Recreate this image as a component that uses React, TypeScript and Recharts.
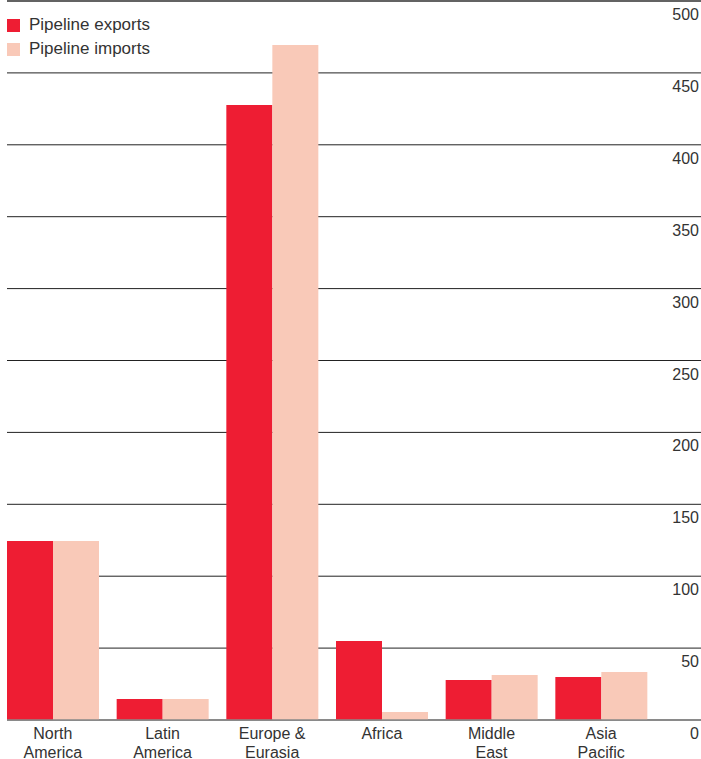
import React from "react";
import { BarChart, Bar, XAxis, YAxis, CartesianGrid, ReferenceLine, Legend } from "recharts";

const categories = ["North America", "Latin America", "Europe & Eurasia", "Africa", "Middle East", "Asia Pacific"];
const tickLines: string[][] = [
  ["North", "America"],
  ["Latin", "America"],
  ["Europe &", "Eurasia"],
  ["Africa"],
  ["Middle", "East"],
  ["Asia", "Pacific"],
];
const exportsValues = [124.5, 14.6, 427.7, 54.9, 27.8, 29.9];
const importsValues = [124.5, 14.6, 469.4, 5.6, 31.3, 33.4];
const yTicks = [0, 50, 100, 150, 200, 250, 300, 350, 400, 450, 500];

const W = 701;
const H = 759;
const RED = "#EE1D33";
const PINK = "#F9C9B8";
const TEXT = "#333333";

const data = categories.map((c, i) => ({
  name: c,
  exports: exportsValues[i],
  imports: importsValues[i],
}));

const XTick = (props: any) => {
  const { x, y, payload } = props;
  const idx = categories.indexOf(payload.value);
  const lines = idx >= 0 ? tickLines[idx] : [String(payload.value)];
  return (
    <text x={x} y={y + 19} textAnchor="middle" fill={TEXT} fontSize={16}>
      {lines.map((l, i) => (
        <tspan key={i} x={x} dy={i === 0 ? 0 : 18.5}>
          {l}
        </tspan>
      ))}
    </text>
  );
};

const YTick = (props: any) => {
  const { x, y, payload } = props;
  return (
    <text x={x} y={y + 19} textAnchor="end" fill={TEXT} fontSize={16}>
      {payload.value}
    </text>
  );
};

const LegendContent = () => {
  const items = [
    { label: "Pipeline exports", color: RED },
    { label: "Pipeline imports", color: PINK },
  ];
  return (
    <div>
      {items.map((it) => (
        <div key={it.label} style={{ display: "flex", alignItems: "center", height: 24 }}>
          <div style={{ width: 13, height: 13, background: it.color, marginRight: 9 }} />
          <span style={{ fontSize: 17, lineHeight: "24px", color: TEXT }}>{it.label}</span>
        </div>
      ))}
    </div>
  );
};

export default function App() {
  return (
    <div
      style={{
        position: "absolute",
        left: 0,
        top: 0,
        width: W,
        height: H,
        fontFamily: "'Liberation Sans', Arial, sans-serif",
        background: "#fff",
        overflow: "hidden",
      }}
    >
      <BarChart
        width={W}
        height={H}
        data={data}
        margin={{ top: 1, right: 0, bottom: 0, left: 7 }}
        barGap={0}
        barCategoryGap={9}
      >
        <CartesianGrid horizontal vertical={false} stroke="#222" strokeWidth={1} />
        <XAxis
          dataKey="name"
          axisLine={false}
          tickLine={false}
          tickSize={0}
          tickMargin={0}
          height={39}
          interval={0}
          padding={{ left: -9, right: 45 }}
          tick={<XTick />}
        />
        <YAxis
          orientation="right"
          mirror
          width={40}
          domain={[0, 500]}
          ticks={yTicks}
          interval={0}
          axisLine={false}
          tickLine={false}
          tickSize={0}
          tickMargin={2}
          tick={<YTick />}
        />
        <Legend
          layout="horizontal"
          verticalAlign="middle"
          content={<LegendContent />}
          wrapperStyle={{ top: 13, left: 7, width: 200 }}
        />
        <ReferenceLine y={500} stroke="#555" strokeWidth={1.5} />
        <Bar dataKey="exports" fill={RED} isAnimationActive={false} />
        <Bar dataKey="imports" fill={PINK} isAnimationActive={false} />
        <ReferenceLine y={0} stroke="#888" strokeWidth={1.5} />
      </BarChart>
    </div>
  );
}
